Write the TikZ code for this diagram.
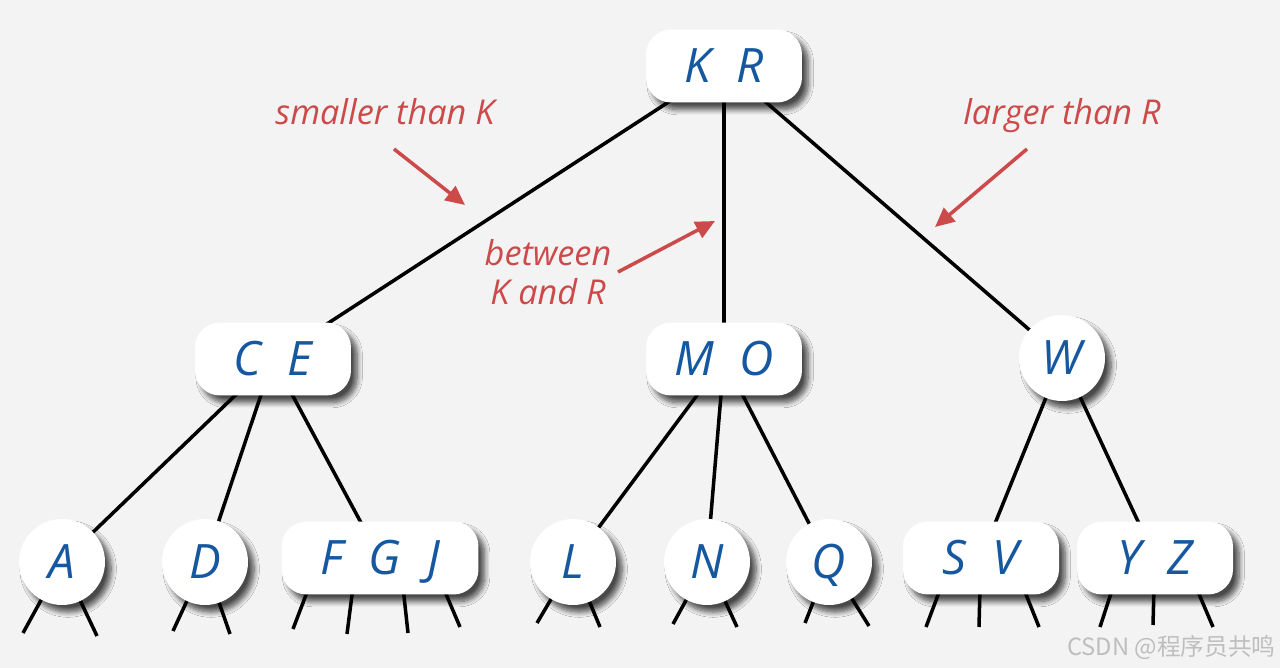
\documentclass[tikz,border=0pt]{standalone}
\usepackage{fontspec}
\setmainfont{Open Sans}
\newfontfamily\cjkfont{Noto Sans CJK SC}
\usetikzlibrary{arrows.meta, calc, shadows.blur}
\pgfdeclarelayer{background}
\pgfsetlayers{background,main}
\definecolor{keyblue}{RGB}{22,88,160}
\definecolor{notered}{RGB}{204,74,74}
\definecolor{paper}{RGB}{243,243,243}
\definecolor{markgray}{RGB}{190,190,190}

\begin{document}
\begin{tikzpicture}[x=0.02cm, y=-0.02cm,
          keybox/.style={rectangle, fill=white, rounded corners=0.5cm, minimum width=3.12cm, minimum height=1.46cm, inner sep=0pt, text=keyblue, text height=19pt, text depth=0pt, font=\fontsize{27}{30}\selectfont\itshape, blur shadow={shadow xshift=3.5pt, shadow yshift=-4pt, shadow blur radius=3pt, shadow blur steps=8, shadow opacity=70}},
          keycirc/.style={keybox, circle, minimum size=1.72cm},
          link/.style={line width=2pt},
          note/.style={text=notered, font=\fontsize{19.5}{22}\selectfont\itshape, align=center, inner sep=0pt},
          pointer/.style={-{Triangle[length=11pt, width=10pt]}, line width=2pt, draw=notered}]
        % keys of the tree
        \node [keybox] (KR) at (724,66) {K\hspace{0.55em}R};
        \node [keybox] (CE) at (273,359) {C\hspace{0.55em}E};
        \node [keybox] (MO) at (724,359) {M\hspace{0.55em}O};
        \node [keycirc] (W) at (1062,358) {W};
        \node [keycirc] (A) at (62,562) {A};
        \node [keycirc] (D) at (205,562) {D};
        \node [keybox, minimum width=3.94cm] (FGJ) at (380,558) {F\hspace{0.55em}G\hspace{0.55em}J};
        \node [keycirc] (L) at (573,562) {L};
        \node [keycirc] (N) at (707,562) {N};
        \node [keycirc] (Q) at (829,562) {Q};
        \node [keybox] (SV) at (981,558) {S\hspace{0.55em}V};
        \node [keybox] (YZ) at (1155,558) {Y\hspace{0.55em}Z};

        % notes
        \node [note, anchor=base] (small) at (385,125) {smaller than K};
        \node [note, anchor=base] (large) at (1062,125) {larger than R};
        \node [note] (between) at (548,272) {between\\K and R};
        \node [anchor=east, inner sep=0pt, text=markgray, font=\cjkfont\fontsize{13.5}{15}\selectfont] (mark) at (1276,648) {CSDN @程序员共鸣};

        \coordinate (smallA) at (394,149);
        \coordinate (smallB) at (465,205);
        \coordinate (largeA) at (1027,149);
        \coordinate (largeB) at (935,227);
        \coordinate (betwA) at (618,272);
        \coordinate (betwB) at (715,221);
        \draw [pointer] (smallA) -- (smallB);
        \draw [pointer] (largeA) -- (largeB);
        \draw [pointer] (betwA) -- (betwB);

        \begin{pgfonlayer}{background}
          \fill [paper] (0,0) rectangle (1280,668);
          \draw [link] (KR.center) -- (CE.center);
          \draw [link] (KR.center) -- (MO.center);
          \draw [link] (KR.center) -- (W.center);
          \draw [link] (CE.center) -- (A.center);
          \draw [link] (CE.center) -- (D.center);
          \draw [link] (CE.center) -- (FGJ.center);
          \draw [link] (MO.center) -- (L.center);
          \draw [link] (MO.center) -- (N.center);
          \draw [link] (MO.center) -- (Q.center);
          \draw [link] (W.center) -- (SV.center);
          \draw [link] (W.center) -- (YZ.center);
          % null links below the leaves
          \foreach \n/\ex/\ey in {A/-39/71, A/35/74, D/-32/69, D/25/72, L/-36/61, L/27/65, N/-34/62, N/30/65, Q/-24/61, Q/40/64}
            \draw [link] (\n.center) -- ($(\n.center)+(\ex,\ey)$);
          \foreach \n/\sx/\ex/\ey in {FGJ/-71/-87/71, FGJ/-27/-33/76, FGJ/23/28/75, FGJ/63/80/69, SV/-40/-55/69, SV/-1/-2/69, SV/42/58/69, YZ/-42/-55/69, YZ/-1/-2/67, YZ/41/58/69}
            \draw [link] ($(\n.center)+(\sx,29)$) -- ($(\n.center)+(\ex,\ey)$);
        \end{pgfonlayer}
      \end{tikzpicture}
\end{document}
